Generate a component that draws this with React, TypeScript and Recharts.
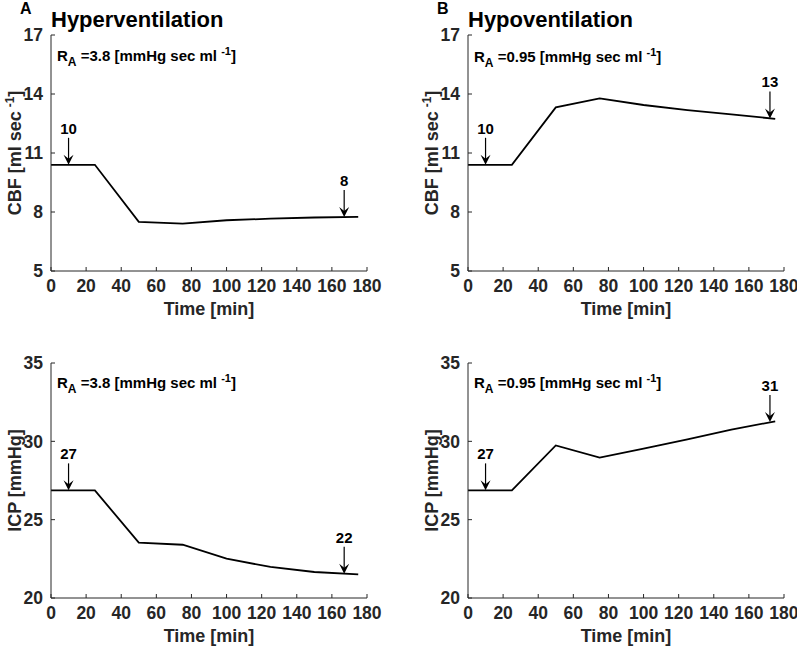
import { LineChart, Line, XAxis, YAxis, ReferenceDot } from 'recharts';

const FONT = '"Liberation Sans", Arial, sans-serif';
const INK = '#262626';

// sample times [min]
const time = [0, 25, 50, 75, 100, 125, 150, 175];

// CBF [ml/sec]
const cbfHyper = [10.4, 10.4, 7.5, 7.41, 7.58, 7.66, 7.72, 7.75];
const cbfHypo = [10.4, 10.4, 13.32, 13.78, 13.44, 13.18, 12.96, 12.74];

// ICP [mmHg]
const icpHyper = [26.87, 26.87, 23.53, 23.4, 22.51, 21.98, 21.66, 21.51];
const icpHypo = [26.87, 26.87, 29.74, 28.96, 29.53, 30.13, 30.74, 31.28];

const xTicks = [0, 20, 40, 60, 80, 100, 120, 140, 160, 180];
const cbfTicks = [5, 8, 11, 14, 17];
const icpTicks = [20, 25, 30, 35];

// arrow markers: [time, value at tip, label]
const cbfHyperArrows: [number, number, string][] = [[10, 10.4, '10'], [167, 7.74, '8']];
const cbfHypoArrows: [number, number, string][] = [[10, 10.4, '10'], [172, 12.76, '13']];
const icpHyperArrows: [number, number, string][] = [[10, 26.87, '27'], [167, 21.55, '22']];
const icpHypoArrows: [number, number, string][] = [[10, 26.87, '27'], [172, 31.24, '31']];

function toRows(values: number[]) {
  return time.map((t, i) => ({ t, v: values[i] }));
}

function Arrow(props: any) {
  const { cx, cy, text } = props;
  if (cx == null || cy == null) return null;
  const top = cy - 27;
  return (
    <g>
      <text
        x={cx}
        y={top - 4}
        textAnchor="middle"
        fontFamily={FONT}
        fontWeight="bold"
        fontSize={15}
        fill="#000"
      >
        {text}
      </text>
      <line x1={cx} y1={top} x2={cx} y2={cy - 3} stroke="#000" strokeWidth={1.2} />
      <path
        d={`M${cx - 5},${cy - 10} L${cx},${cy} L${cx + 5},${cy - 10} L${cx},${cy - 6} Z`}
        fill="#000"
      />
    </g>
  );
}

interface PanelProps {
  values: number[];
  arrows: [number, number, string][];
  domain: [number, number];
  yTicks: number[];
  yLabel: 'cbf' | 'icp';
  left: number;
  top: number;
  width: number;
  height: number;
  yAxisWidth: number;
  marginTop: number;
  marginRight: number;
}

function Panel({
  values,
  arrows,
  domain,
  yTicks,
  yLabel,
  left,
  top,
  width,
  height,
  yAxisWidth,
  marginTop,
  marginRight,
}: PanelProps) {
  const tickStyle = { fontSize: 17.5, fontWeight: 'bold', fill: INK, fontFamily: FONT };
  const plotBottom = height - 49;
  const plotTop = marginTop;
  const labelX = yAxisWidth - 30;
  const labelY = (plotTop + plotBottom) / 2;

  return (
    <div style={{ position: 'absolute', left, top }}>
      <LineChart
        width={width}
        height={height}
        data={toRows(values)}
        margin={{ top: marginTop, right: marginRight, left: 0, bottom: 0 }}
      >
        <XAxis
          dataKey="t"
          type="number"
          domain={[0, 180]}
          ticks={xTicks}
          height={49}
          tick={tickStyle}
          tickSize={-4}
          tickMargin={13}
          axisLine={{ stroke: INK, strokeWidth: 1 }}
          tickLine={{ stroke: INK }}
          label={{
            content: (p: any) => {
              const vb = p.viewBox || {};
              return (
                <text
                  x={vb.x + vb.width / 2}
                  y={vb.y + 44}
                  textAnchor="middle"
                  fontFamily={FONT}
                  fontWeight="bold"
                  fontSize={18}
                  fill={INK}
                >
                  Time [min]
                </text>
              );
            },
          }}
        />
        <YAxis
          type="number"
          domain={domain}
          ticks={yTicks}
          width={yAxisWidth}
          tick={tickStyle}
          tickSize={-4}
          tickMargin={12}
          axisLine={{ stroke: INK, strokeWidth: 1 }}
          tickLine={{ stroke: INK }}
          label={{
            content: () => (
              <text
                x={labelX}
                y={labelY}
                transform={`rotate(-90 ${labelX} ${labelY})`}
                textAnchor="middle"
                fontFamily={FONT}
                fontWeight="bold"
                fontSize={18}
                fill={INK}
              >
                {yLabel === 'cbf' ? (
                  <>
                    CBF [ml sec
                    <tspan dx={4} dy={-7} fontSize={12}>-1</tspan>
                    <tspan dy={7}>]</tspan>
                  </>
                ) : (
                  'ICP [mmHg]'
                )}
              </text>
            ),
          }}
        />
        <Line
          type="linear"
          dataKey="v"
          stroke="#000"
          strokeWidth={1.8}
          dot={false}
          isAnimationActive={false}
        />
        {arrows.map(([x, y, s]) => (
          <ReferenceDot
            key={s + x}
            x={x}
            y={y}
            r={0}
            shape={(p: any) => <Arrow {...p} text={s} />}
          />
        ))}
      </LineChart>
    </div>
  );
}

function RA({ x, y, value }: { x: number; y: number; value: string }) {
  return (
    <text x={x} y={y} fontFamily={FONT} fontWeight="bold" fontSize={15} fill="#000">
      R
      <tspan dy={5} fontSize={12}>A</tspan>
      <tspan dy={-5}>{` =${value} [mmHg sec ml `}</tspan>
      <tspan dy={-6} fontSize={11}>-1</tspan>
      <tspan dy={6}>]</tspan>
    </text>
  );
}

export default function App() {
  return (
    <div
      style={{
        position: 'absolute',
        left: 0,
        top: 0,
        width: 797,
        height: 647,
        background: '#fff',
        overflow: 'hidden',
      }}
    >
      <Panel values={cbfHyper} arrows={cbfHyperArrows} domain={[5, 17]} yTicks={cbfTicks} yLabel="cbf"
        left={0} top={0} width={400} height={320} yAxisWidth={51} marginTop={35} marginRight={33} />
      <Panel values={cbfHypo} arrows={cbfHypoArrows} domain={[5, 17]} yTicks={cbfTicks} yLabel="cbf"
        left={400} top={0} width={397} height={320} yAxisWidth={68} marginTop={35} marginRight={13} />
      <Panel values={icpHyper} arrows={icpHyperArrows} domain={[20, 35]} yTicks={icpTicks} yLabel="icp"
        left={0} top={320} width={400} height={327} yAxisWidth={51} marginTop={43} marginRight={33} />
      <Panel values={icpHypo} arrows={icpHypoArrows} domain={[20, 35]} yTicks={icpTicks} yLabel="icp"
        left={400} top={320} width={397} height={327} yAxisWidth={68} marginTop={43} marginRight={13} />

      <svg
        width={797}
        height={647}
        style={{ position: 'absolute', left: 0, top: 0, pointerEvents: 'none' }}
      >
        <text x={20} y={14} fontFamily={FONT} fontWeight="bold" fontSize={16} fill="#000">A</text>
        <text x={51} y={27} fontFamily={FONT} fontWeight="bold" fontSize={22} fill="#000">Hyperventilation</text>
        <text x={437} y={14} fontFamily={FONT} fontWeight="bold" fontSize={16} fill="#000">B</text>
        <text x={468} y={27} fontFamily={FONT} fontWeight="bold" fontSize={22} fill="#000">Hypoventilation</text>
        <RA x={57} y={61} value="3.8" />
        <RA x={474} y={62} value="0.95" />
        <RA x={57} y={388} value="3.8" />
        <RA x={474} y={388} value="0.95" />
      </svg>
    </div>
  );
}
